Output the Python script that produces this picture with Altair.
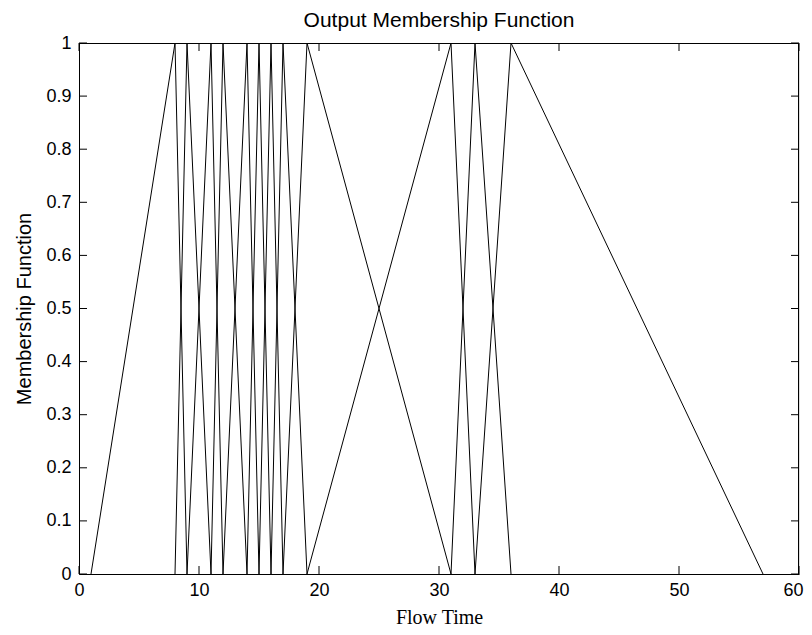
import altair as alt
import pandas as pd

# Triangular membership functions: [left foot, peak, right foot]
mf_left = [1, 8, 9, 11, 12, 14, 15, 16, 17, 19, 31, 33]
mf_peak = [8, 9, 11, 12, 14, 15, 16, 17, 19, 31, 33, 36]
mf_right = [9, 11, 12, 14, 15, 16, 17, 19, 31, 33, 36, 57]

x_ticks = [0, 10, 20, 30, 40, 50, 60]
y_ticks = [0, 0.1, 0.2, 0.3, 0.4, 0.5, 0.6, 0.7, 0.8, 0.9, 1]

rows = []
for i, (a, b, c) in enumerate(zip(mf_left, mf_peak, mf_right)):
    rows.append({"mf": i, "k": 0, "x": a, "y": 0})
    rows.append({"mf": i, "k": 1, "x": b, "y": 1})
    rows.append({"mf": i, "k": 2, "x": c, "y": 0})
df = pd.DataFrame(rows)
xt = pd.DataFrame({"x": x_ticks})
yt = pd.DataFrame({"y": y_ticks})

W, H = 720, 531
TL = 8

xs = alt.Scale(domain=[0, 60], nice=False, zero=False)
ys = alt.Scale(domain=[0, 1], nice=False, zero=False)

xaxis = alt.Axis(values=x_ticks, grid=False, domain=True, domainColor="black",
                 domainWidth=1, ticks=False,
                 labelFont="Liberation Sans", labelFontSize=18, labelColor="black",
                 labelPadding=7, titleFont="Liberation Serif", titleFontSize=20,
                 titleFontWeight="normal", titleColor="black", titlePadding=8,
                 labelFlush=False,
                 labelOffset={"expr": "datum.value == 60 ? -6 : 0"})
yaxis = alt.Axis(values=y_ticks, grid=False, domain=True, domainColor="black",
                 domainWidth=1, ticks=False, format="~g",
                 labelFont="Liberation Sans", labelFontSize=18, labelColor="black",
                 labelPadding=8, titleFont="Liberation Sans", titleFontSize=20,
                 titleFontWeight="normal", titleColor="black", titlePadding=11,
                 labelFlush=False)

def X(field="x"):
    return alt.X(f"{field}:Q", scale=xs, axis=xaxis, title="Flow Time")

def Y(field="y"):
    return alt.Y(f"{field}:Q", scale=ys, axis=yaxis, title="Membership Function")

lines = alt.Chart(df).mark_line(color="black", strokeWidth=1).encode(
    x=X(), y=Y(), detail="mf:N", order="k:Q"
)

rule_style = dict(color="black", strokeWidth=1)
bottom_ticks = alt.Chart(xt).mark_rule(**rule_style).encode(
    x=X(), y=alt.value(H), y2=alt.value(H - TL))
top_ticks = alt.Chart(xt).mark_rule(**rule_style).encode(
    x=X(), y=alt.value(0), y2=alt.value(TL))
left_ticks = alt.Chart(yt).mark_rule(**rule_style).encode(
    y=Y(), x=alt.value(0), x2=alt.value(TL))
right_ticks = alt.Chart(yt).mark_rule(**rule_style).encode(
    y=Y(), x=alt.value(W), x2=alt.value(W - TL))

# box frame (top and right edges)
frame_top = alt.Chart(xt).mark_rule(**rule_style).encode(
    x=alt.value(0), x2=alt.value(W), y=alt.value(0.5))
frame_right = alt.Chart(xt).mark_rule(**rule_style).encode(
    x=alt.value(W - 0.5), y=alt.value(0), y2=alt.value(H))

chart = alt.layer(lines, bottom_ticks, top_ticks, left_ticks, right_ticks,
                  frame_top, frame_right).properties(
    width=W, height=H,
    title=alt.TitleParams("Output Membership Function", font="Liberation Sans",
                          fontSize=21, fontWeight="normal", color="black",
                          anchor="middle", offset=3),
    autosize=alt.AutoSizeParams(type="none"),
    padding={"left": 71, "top": 35, "right": 5, "bottom": 53},
).configure_view(stroke=None).configure(background="white")

chart.save("out.html", embed_options={"renderer": "svg", "actions": False})
